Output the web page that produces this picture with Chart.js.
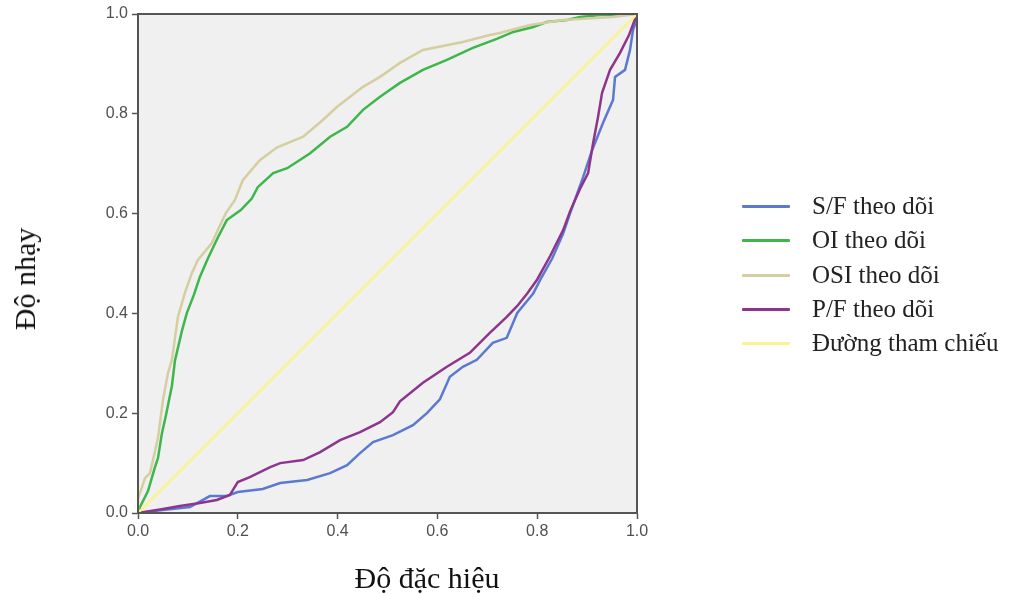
<!DOCTYPE html>
<html>
<head>
<meta charset="utf-8">
<script src="https://cdn.jsdelivr.net/npm/chart.js@4.4.1/dist/chart.umd.min.js"></script>
<style>
  html, body { margin: 0; padding: 0; background: #ffffff; }
  #wrap { position: relative; width: 1009px; height: 594px; }
  #legend { position: absolute; left: 742px; top: 189px; font-family: "Liberation Serif", "Times New Roman", serif; font-size: 25px; color: #222; }
  .item { position: relative; height: 34.3px; line-height: 34.3px; white-space: nowrap; }
  .swatch { position: absolute; left: 0; top: 16px; width: 48px; height: 3px; border-radius: 1px; }
  .label { position: absolute; left: 70px; top: 0; }
  .atitle { position: absolute; font-family: "Liberation Serif", "Times New Roman", serif; font-size: 30px; color: #111; white-space: nowrap; line-height: 36px; }
  #xt { left: 427px; top: 560px; transform: translateX(-50%); }
  #yt { left: 25px; top: 279px; transform: translate(-50%, -50%) rotate(-90deg); }
</style>
</head>
<body>
<div id="wrap">
  <canvas id="c" width="1009" height="594"></canvas>
  <div id="legend"></div>
  <div id="xt" class="atitle"></div>
  <div id="yt" class="atitle"></div>
</div>
<script>
const xTitle = "Độ đặc hiệu";
const yTitle = "Độ nhạy";
const tickValues = [0, 0.2, 0.4, 0.6, 0.8, 1.0];

const seriesNames = ["S/F theo dõi", "OI theo dõi", "OSI theo dõi", "P/F theo dõi", "Đường tham chiếu"];
const seriesColors = ["#5b79cf", "#3db64b", "#d4cea0", "#8d358d", "#fbf38c"];

const sfX = [0, 0.05, 0.104, 0.144, 0.178, 0.200, 0.250, 0.285, 0.339, 0.385, 0.419, 0.445, 0.471, 0.511, 0.551, 0.579, 0.605, 0.625, 0.651, 0.679, 0.711, 0.739, 0.760, 0.792, 0.806, 0.830, 0.852, 0.866, 0.892, 0.910, 0.932, 0.952, 0.956, 0.976, 0.986, 0.992, 1, 1];
const sfY = [0, 0.006, 0.012, 0.034, 0.034, 0.042, 0.048, 0.060, 0.066, 0.080, 0.096, 0.120, 0.142, 0.156, 0.176, 0.200, 0.228, 0.273, 0.293, 0.307, 0.341, 0.351, 0.401, 0.440, 0.467, 0.510, 0.560, 0.601, 0.673, 0.727, 0.782, 0.828, 0.874, 0.888, 0.928, 0.968, 0.99, 1];

const oiX = [0, 0.004, 0.020, 0.034, 0.040, 0.048, 0.056, 0.068, 0.074, 0.088, 0.098, 0.112, 0.124, 0.140, 0.160, 0.178, 0.206, 0.228, 0.240, 0.271, 0.299, 0.345, 0.385, 0.419, 0.451, 0.485, 0.525, 0.571, 0.619, 0.671, 0.719, 0.752, 0.792, 0.819, 0.860, 0.886, 0.926, 1];
const oiY = [0, 0.012, 0.044, 0.092, 0.110, 0.160, 0.196, 0.255, 0.305, 0.365, 0.401, 0.437, 0.473, 0.510, 0.552, 0.587, 0.607, 0.630, 0.653, 0.681, 0.691, 0.721, 0.754, 0.774, 0.808, 0.834, 0.862, 0.888, 0.908, 0.932, 0.950, 0.964, 0.974, 0.984, 0.988, 0.994, 0.998, 1];

const osiX = [0, 0, 0.004, 0.014, 0.024, 0.030, 0.040, 0.050, 0.060, 0.068, 0.080, 0.094, 0.108, 0.120, 0.148, 0.160, 0.176, 0.194, 0.210, 0.244, 0.279, 0.331, 0.371, 0.399, 0.451, 0.485, 0.525, 0.571, 0.651, 0.705, 0.725, 0.786, 0.852, 0.952, 1];
const osiY = [0, 0.030, 0.040, 0.070, 0.080, 0.106, 0.150, 0.226, 0.280, 0.307, 0.393, 0.441, 0.481, 0.507, 0.541, 0.567, 0.601, 0.627, 0.667, 0.707, 0.733, 0.754, 0.788, 0.814, 0.854, 0.874, 0.902, 0.928, 0.944, 0.958, 0.962, 0.978, 0.988, 0.994, 1];

const pfX = [0, 0.05, 0.084, 0.124, 0.158, 0.184, 0.200, 0.224, 0.265, 0.285, 0.331, 0.365, 0.405, 0.445, 0.485, 0.511, 0.525, 0.571, 0.619, 0.665, 0.705, 0.739, 0.760, 0.780, 0.800, 0.826, 0.852, 0.866, 0.886, 0.902, 0.912, 0.922, 0.930, 0.946, 0.966, 0.984, 1];
const pfY = [0, 0.008, 0.014, 0.020, 0.026, 0.036, 0.062, 0.072, 0.092, 0.100, 0.106, 0.122, 0.146, 0.162, 0.182, 0.202, 0.224, 0.261, 0.293, 0.321, 0.361, 0.393, 0.415, 0.440, 0.468, 0.515, 0.567, 0.605, 0.650, 0.681, 0.741, 0.794, 0.842, 0.888, 0.922, 0.958, 1];

const refX = [0, 1];
const refY = [0, 1];

function pts(xs, ys) { return xs.map((x, i) => ({ x: x, y: ys[i] })); }

const seriesData = [pts(sfX, sfY), pts(oiX, oiY), pts(osiX, osiY), pts(pfX, pfY), pts(refX, refY)];

const datasets = seriesNames.map((name, i) => ({
  label: name,
  data: seriesData[i],
  borderColor: seriesColors[i],
  backgroundColor: seriesColors[i],
  borderWidth: 2.5,
  showLine: true,
  pointRadius: 0,
  tension: 0,
  order: 4 - i
}));

const bgPlugin = {
  id: 'bg',
  beforeDraw(chart) {
    const { ctx, chartArea: a } = chart;
    ctx.save();
    ctx.fillStyle = '#f0f0f0';
    ctx.fillRect(a.left, a.top, a.right - a.left, a.bottom - a.top);
    ctx.restore();
  },
  afterDraw(chart) {
    const { ctx, chartArea: a } = chart;
    ctx.save();
    ctx.strokeStyle = '#555555';
    ctx.lineWidth = 2;
    ctx.strokeRect(a.left, a.top, a.right - a.left, a.bottom - a.top);
    ctx.restore();
  }
};

new Chart(document.getElementById('c'), {
  type: 'scatter',
  data: { datasets },
  options: {
    responsive: false,
    animation: false,
    layout: { padding: { left: 0, right: 372, top: 14, bottom: 0 } },
    plugins: { legend: { display: false }, tooltip: { enabled: false } },
    scales: {
      x: {
        type: 'linear', min: 0, max: 1,
        afterFit(s) { s.height = 81; },
        afterBuildTicks(s) { s.ticks = tickValues.map(v => ({ value: v })); },
        ticks: { callback: v => v.toFixed(1), color: '#505050', padding: 3, font: { family: 'Liberation Sans', size: 16 } },
        grid: { drawOnChartArea: false, drawTicks: true, tickLength: 6, color: '#555555', tickWidth: 1.5 },
        border: { display: true, color: '#555555', width: 2 },
        title: { display: false }
      },
      y: {
        type: 'linear', min: 0, max: 1,
        afterFit(s) { s.width = 138; },
        afterBuildTicks(s) { s.ticks = tickValues.map(v => ({ value: v })); },
        ticks: { callback: v => v.toFixed(1), color: '#505050', padding: 4, font: { family: 'Liberation Sans', size: 16 } },
        grid: { drawOnChartArea: false, drawTicks: true, tickLength: 6, color: '#555555', tickWidth: 1.5 },
        border: { display: true, color: '#555555', width: 2 },
        title: { display: false }
      }
    }
  },
  plugins: [bgPlugin]
});

document.getElementById('xt').textContent = xTitle;
document.getElementById('yt').textContent = yTitle;

const legendEl = document.getElementById('legend');
seriesNames.forEach((name, i) => {
  const item = document.createElement('div');
  item.className = 'item';
  const sw = document.createElement('div');
  sw.className = 'swatch';
  sw.style.background = seriesColors[i];
  const lb = document.createElement('div');
  lb.className = 'label';
  lb.textContent = name;
  item.appendChild(sw);
  item.appendChild(lb);
  legendEl.appendChild(item);
});
</script>
</body>
</html>
